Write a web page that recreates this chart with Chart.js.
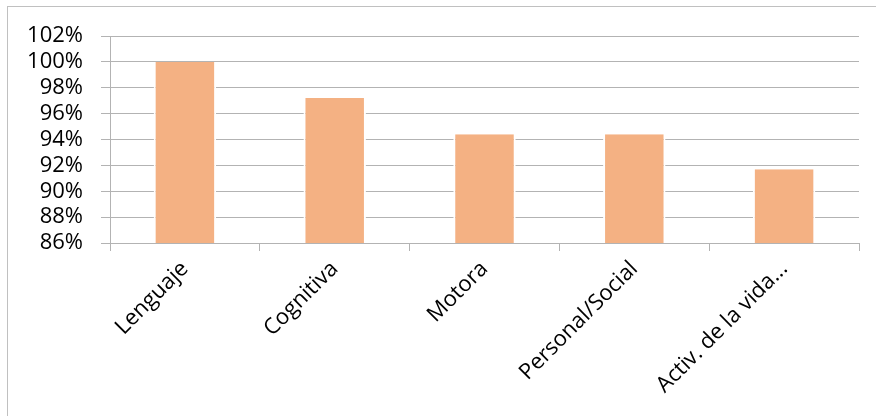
<!DOCTYPE html>
<html>
<head>
<meta charset="utf-8">
<script src="https://cdn.jsdelivr.net/npm/chart.js@4"></script>
<style>
  html, body { margin: 0; padding: 0; background: #fff; }
  #wrap { position: relative; width: 876px; height: 416px; }
  #frame {
    position: absolute; left: 7px; top: 6px; right: -2px; bottom: -2px;
    border: 1px solid #c0c0c0; pointer-events: none;
  }
  canvas { position: absolute; left: 0; top: 0; }
</style>
</head>
<body>
<div id="wrap">
  <canvas id="chart" width="876" height="416"></canvas>
  <div id="frame"></div>
</div>
<script>
'use strict';

// Categories and values (share of children at expected level, %)
const categories = ['Lenguaje', 'Cognitiva', 'Motora', 'Personal/Social', 'Activ. de la vida...'];
const percentages = [100, 97.2, 94.4, 94.4, 91.7];
const yTicks = [86, 88, 90, 92, 94, 96, 98, 100, 102];

const FONT = { family: '"Open Sans", "Liberation Sans", sans-serif', size: 22 };
const GRID = '#b3b3b3';

new Chart(document.getElementById('chart'), {
  type: 'bar',
  data: {
    labels: categories,
    datasets: [{
      data: percentages,
      backgroundColor: '#f4b183',
      borderColor: '#ffffff',
      borderWidth: { left: 2, right: 2, top: 0, bottom: 0 },
      barPercentage: 0.417,
      categoryPercentage: 1,
    }],
  },
  options: {
    responsive: false,
    animation: false,
    layout: { padding: { top: 36, right: 17, left: 0, bottom: 0 } },
    plugins: { legend: { display: false }, tooltip: { enabled: false } },
    scales: {
      x: {
        grid: { drawOnChartArea: false, drawTicks: true, tickLength: 8, color: GRID, offset: true },
        border: { color: GRID, width: 1 },
        ticks: {
          color: '#000', font: FONT, minRotation: 45, maxRotation: 45, padding: 5,
          autoSkip: false,
        },
        afterFit: (scale) => { scale.height = 416 - 243; },
      },
      y: {
        min: yTicks[0],
        max: yTicks[yTicks.length - 1],
        afterBuildTicks: (scale) => { scale.ticks = yTicks.map(v => ({ value: v })); },
        grid: { color: GRID, tickLength: 9 },
        border: { color: GRID, width: 1 },
        ticks: {
          color: '#000', font: FONT, padding: 18, autoSkip: false,
          callback: v => v + '%',
        },
        afterFit: (scale) => { scale.width = 110; },
      },
    },
  },
});
</script>
</body>
</html>
